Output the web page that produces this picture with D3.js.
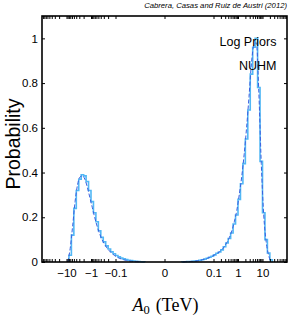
<!DOCTYPE html>
<html><head><meta charset="utf-8">
<script src="https://cdn.jsdelivr.net/npm/d3@7"></script>
<style>
html,body{margin:0;padding:0;background:#fff;}
svg{display:block;}
text{font-family:"Liberation Sans",Arial,Helvetica,sans-serif;}
</style></head>
<body>
<script>
// Transformed axis variable: t = sign(A0)*(log10|A0| + 3), A0 in TeV
const binWidth = 0.1;
const leftBinStart = -3.9;
const leftHist = [0.03,0.12,0.24,0.32,0.37,0.39,0.385,0.36,0.32,0.27,0.22,0.18,0.14,0.11,0.09,0.072,0.058,0.046,0.037,0.029,0.023,0.018,0.014,0.011,0.008,0.006,0.0045,0.003,0.002,0.001,0.0005];
const rightBinStart = 0.7;
const rightHist = [0.0005,0.001,0.0015,0.002,0.003,0.004,0.0055,0.0075,0.01,0.013,0.017,0.021,0.026,0.032,0.039,0.045,0.054,0.068,0.085,0.105,0.13,0.17,0.21,0.28,0.35,0.44,0.55,0.68,0.84,0.96,1.0,0.78,0.45,0.22,0.10,0.04,0.01];
// smooth (dashed) curve, sampled at bin centres
const leftCurveStart = -3.95;
const leftCurve = [0.0,0.06,0.16,0.27,0.345,0.38,0.385,0.37,0.335,0.29,0.245,0.2,0.16,0.127,0.1,0.08,0.063,0.05,0.039,0.03,0.023,0.017,0.013,0.0095,0.007,0.005,0.0035,0.0025,0.0015,0.001,0.0005];
const rightCurveStart = 0.75;
const rightCurve = [0.0005,0.001,0.0015,0.002,0.003,0.004,0.0055,0.0075,0.01,0.013,0.017,0.021,0.026,0.032,0.039,0.046,0.056,0.07,0.088,0.11,0.14,0.18,0.23,0.3,0.38,0.48,0.6,0.74,0.89,0.97,0.98,0.76,0.44,0.21,0.09,0.03,0.0];

const xMajorTicks = [-10,-1,-0.1,0,0.1,1,10];
const xMajorLabels = ["\u221210","\u22121","\u22120.1","0","0.1","1","10"];
const yTicks = [0,0.2,0.4,0.6,0.8,1];
const yTickLabels = ["0","0.2","0.4","0.6","0.8","1"];

const W = 291, H = 318;
const L = 42, R = 287, T = 16, B = 262;

function tf(v){ return v === 0 ? 0 : Math.sign(v) * (Math.log10(Math.abs(v)) + 3); }

const x = d3.scaleLinear().domain([-5, 5]).range([L, R]);
const y = d3.scaleLinear().domain([0, 1.1]).range([B, T]);

const svg = d3.select("body").append("svg").attr("width", W).attr("height", H);

// minor ticks
const minor = [];
[-1,0,1].forEach(k => { for (let m = 2; m <= 9; m++) { minor.push(m*Math.pow(10,k)); minor.push(-m*Math.pow(10,k)); } });
const allX = xMajorTicks.concat(minor);

function hist(start, vals){
  const pts = [];
  pts.push([start, 0]);
  vals.forEach((v,i) => { const a = start + i*binWidth; pts.push([a, v]); pts.push([a+binWidth, v]); });
  pts.push([start + vals.length*binWidth, 0]);
  return pts;
}
const lineFn = d3.line().x(d => x(d[0])).y(d => y(d[1]));
const smoothFn = d3.line().x(d => x(d[0])).y(d => y(d[1])).curve(d3.curveMonotoneX);

const g = svg.append("g");
[[leftBinStart,leftHist],[rightBinStart,rightHist]].forEach(([s,v]) => {
  g.append("path").attr("d", lineFn(hist(s,v))).attr("fill","none")
   .attr("stroke","#52b8f5").attr("stroke-width",1.6);
});
[[leftCurveStart,leftCurve],[rightCurveStart,rightCurve]].forEach(([s,v]) => {
  g.append("path").attr("d", smoothFn(v.map((d,i)=>[s+i*binWidth,d]))).attr("fill","none")
   .attr("stroke","#3a5fe0").attr("stroke-width",1).attr("stroke-dasharray","4,2");
});

// axes
const axB = d3.axisBottom(x).tickValues(allX.map(tf)).tickSizeInner(-3).tickSizeOuter(0).tickPadding(7)
  .tickFormat(t => { const i = xMajorTicks.map(tf).indexOf(t); return i >= 0 ? xMajorLabels[i] : ""; });
const axT = d3.axisTop(x).tickValues(allX.map(tf)).tickSizeInner(-3).tickSizeOuter(0).tickFormat("");
const axL = d3.axisLeft(y).tickValues(yTicks).tickSizeInner(-3).tickSizeOuter(0).tickPadding(4)
  .tickFormat((d,i) => yTickLabels[i]);
const axR = d3.axisRight(y).tickValues(yTicks).tickSizeInner(-3).tickSizeOuter(0).tickFormat("");

function styleAxis(sel){
  sel.select(".domain").remove();
  sel.selectAll("line").attr("stroke","#000").attr("stroke-width",1);
  sel.selectAll("text").attr("font-size",11.5).attr("fill","#000").attr("font-family",'"Liberation Sans",Arial,sans-serif');
}
svg.append("g").attr("transform",`translate(0,${B})`).call(axB).call(styleAxis);
svg.append("g").attr("transform",`translate(0,${T})`).call(axT).call(styleAxis);
svg.append("g").attr("transform",`translate(${L},0)`).call(axL).call(styleAxis);
svg.append("g").attr("transform",`translate(${R},0)`).call(axR).call(styleAxis);

svg.append("rect").attr("x",L).attr("y",T).attr("width",R-L).attr("height",B-T)
  .attr("fill","none").attr("stroke","#000").attr("stroke-width",1.6);

// texts
svg.append("text").attr("x",287).attr("y",7.5).attr("text-anchor","end")
  .attr("font-size",7.7).attr("font-style","italic").text("Cabrera, Casas and Ruiz de Austri (2012)");
svg.append("text").attr("x",276.5).attr("y",46).attr("text-anchor","end").attr("font-size",12.5).text("Log Priors");
svg.append("text").attr("x",276.5).attr("y",69.5).attr("text-anchor","end").attr("font-size",12.5).text("NUHM");

svg.append("text").attr("transform",`translate(20,144) rotate(-90)`).attr("text-anchor","middle")
  .attr("font-size",19.5).text("Probability");

const xl = svg.append("text").attr("x",(L+R)/2 + 1).attr("y",311).attr("text-anchor","middle")
  .attr("font-family",'"Liberation Serif","Times New Roman",serif').attr("font-size",18);
xl.append("tspan").attr("font-style","italic").attr("font-family",'"Liberation Serif",serif').text("A");
xl.append("tspan").attr("font-size",12.5).attr("dy",3).attr("font-family",'"Liberation Serif",serif').text("0");
xl.append("tspan").attr("dy",-3).attr("dx",6).attr("font-family",'"Liberation Serif",serif').text("(TeV)");
</script>
</body></html>
